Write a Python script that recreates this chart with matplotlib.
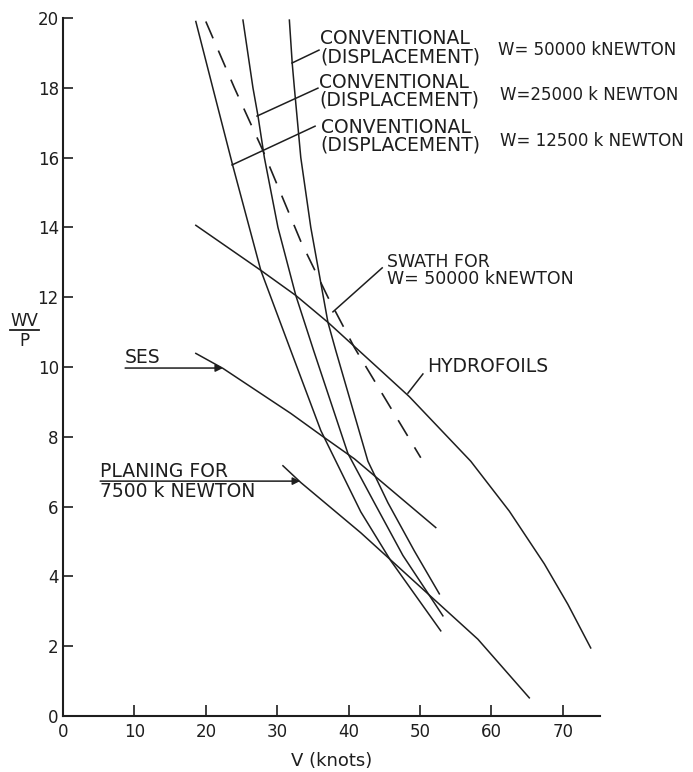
import matplotlib
matplotlib.use('Agg')
import matplotlib.pyplot as plt

# curves, V in knots vs WV/P
v_conv_12500 = [18.6, 21.1, 23.8, 27.7, 31.9, 36.1, 41.7, 45.9, 52.9]
wvp_conv_12500 = [19.9, 17.9, 15.75, 12.77, 10.47, 8.18, 5.85, 4.45, 2.44]

v_conv_25000 = [25.2, 26.6, 27.3, 28.2, 30.1, 32.6, 35.1, 39.9, 43.6, 47.6, 53.2]
wvp_conv_25000 = [19.94, 18.0, 17.2, 16.0, 14.0, 12.05, 10.47, 7.52, 6.11, 4.6, 2.87]

v_conv_50000 = [31.7, 32.1, 32.4, 33.3, 34.7, 37.1, 38.2, 42.7, 45.5, 49.2, 52.7]
wvp_conv_50000 = [19.94, 18.7, 18.0, 16.0, 14.0, 11.28, 10.47, 7.3, 6.11, 4.73, 3.5]

v_swath = [20.0, 24.0, 28.0, 33.3, 37.1, 40.8, 50.1]
wvp_swath = [19.9, 18.0, 16.2, 13.6, 12.0, 10.56, 7.4]

v_hydro = [18.6, 27.7, 32.6, 37.1, 44.5, 48.5, 57.1, 62.5, 67.4, 70.7, 73.9]
wvp_hydro = [14.06, 12.77, 12.05, 11.28, 9.9, 9.15, 7.3, 5.87, 4.36, 3.2, 1.95]

v_ses = [18.6, 22.4, 31.9, 36.1, 40.8, 52.2]
wvp_ses = [10.39, 9.96, 8.67, 8.05, 7.37, 5.4]

v_planing = [30.8, 33.3, 41.7, 58.1, 65.3]
wvp_planing = [7.17, 6.69, 5.25, 2.2, 0.52]

x_ticks = [0, 10, 20, 30, 40, 50, 60, 70]
y_ticks = [0, 2, 4, 6, 8, 10, 12, 14, 16, 18, 20]

ink = '#1e1e1e'

fig = plt.figure(figsize=(6.93, 7.72), dpi=100)
ax = fig.add_axes([63 / 693, 56 / 772, 537 / 693, 698 / 772])
ax.set_xlim(0, 75.2)
ax.set_ylim(0, 20)

lw = 1.1
ax.plot(v_conv_12500, wvp_conv_12500, '-', color=ink, lw=lw)
ax.plot(v_conv_25000, wvp_conv_25000, '-', color=ink, lw=lw)
ax.plot(v_conv_50000, wvp_conv_50000, '-', color=ink, lw=lw)
ax.plot(v_swath, wvp_swath, color=ink, lw=1.2, linestyle=(0, (11, 8)))
ax.plot(v_hydro, wvp_hydro, '-', color=ink, lw=lw)
ax.plot(v_ses, wvp_ses, '-', color=ink, lw=lw)
ax.plot(v_planing, wvp_planing, '-', color=ink, lw=lw)

# axes styling
for s in ['top', 'right']:
    ax.spines[s].set_visible(False)
for s in ['left', 'bottom']:
    ax.spines[s].set_linewidth(1.5)
    ax.spines[s].set_color(ink)
ax.set_xticks(x_ticks)
ax.set_yticks(y_ticks)
ax.set_xticklabels([str(t) for t in x_ticks])
ax.set_yticklabels([str(t) for t in y_ticks])
ax.tick_params(axis='x', direction='in', length=8, width=1.2, pad=5, labelsize=12, colors=ink)
ax.tick_params(axis='y', direction='in', length=7, width=1.2, pad=3, labelsize=12, colors=ink)
ax.set_xlabel('V (knots)', fontsize=13, color=ink, labelpad=8)

# WV over P label
ax.text(-5.4, 11.33, 'WV', fontsize=12, ha='center', va='center', color=ink)
ax.plot([-7.4, -3.4], [11.06, 11.06], color=ink, lw=1.3, clip_on=False)
ax.text(-5.4, 10.75, 'P', fontsize=12, ha='center', va='center', color=ink)

# conventional labels
fs_big = 13.5
fs_w = 12
conv = 'CONVENTIONAL\n(DISPLACEMENT)'
ax.text(36.0, 19.15, conv, fontsize=fs_big, va='center', color=ink, linespacing=0.92)
ax.text(60.9, 19.08, 'W= 50000 kNEWTON', fontsize=fs_w, va='center', color=ink)
ax.plot([35.85, 32.07], [19.08, 18.71], color=ink, lw=lw)

ax.text(35.9, 17.91, conv, fontsize=fs_big, va='center', color=ink, linespacing=0.92)
ax.text(61.2, 17.79, 'W=25000 k NEWTON', fontsize=fs_w, va='center', color=ink)
ax.plot([35.7, 27.17], [17.99, 17.19], color=ink, lw=lw)

ax.text(36.1, 16.62, conv, fontsize=fs_big, va='center', color=ink, linespacing=0.92)
ax.text(61.2, 16.48, 'W= 12500 k NEWTON', fontsize=fs_w, va='center', color=ink)
ax.plot([35.3, 23.67], [16.9, 15.79], color=ink, lw=lw)

# swath and hydrofoils
ax.text(45.4, 12.77, 'SWATH FOR\nW= 50000 kNEWTON', fontsize=12.5, va='center',
        color=ink, linespacing=0.95)
ax.plot([44.7, 37.8], [12.84, 11.58], color=ink, lw=lw)

ax.text(51.0, 10.0, 'HYDROFOILS', fontsize=13.5, va='center', color=ink)
ax.plot([50.4, 48.3], [9.8, 9.25], color=ink, lw=lw)

# SES and planing with arrows
ax.text(8.7, 10.27, 'SES', fontsize=13.5, va='center', color=ink)
ax.annotate('', xy=(22.4, 9.97), xytext=(8.7, 9.97),
            arrowprops=dict(arrowstyle='-|>', color=ink, lw=lw, mutation_scale=11,
                            shrinkA=0, shrinkB=0))

ax.text(5.2, 7.0, 'PLANING FOR', fontsize=13.5, va='center', color=ink)
ax.annotate('', xy=(33.2, 6.73), xytext=(5.2, 6.73),
            arrowprops=dict(arrowstyle='-|>', color=ink, lw=lw, mutation_scale=11,
                            shrinkA=0, shrinkB=0))
ax.text(5.2, 6.44, '7500 k NEWTON', fontsize=13.5, va='center', color=ink)

plt.savefig('out.png', dpi=100)
